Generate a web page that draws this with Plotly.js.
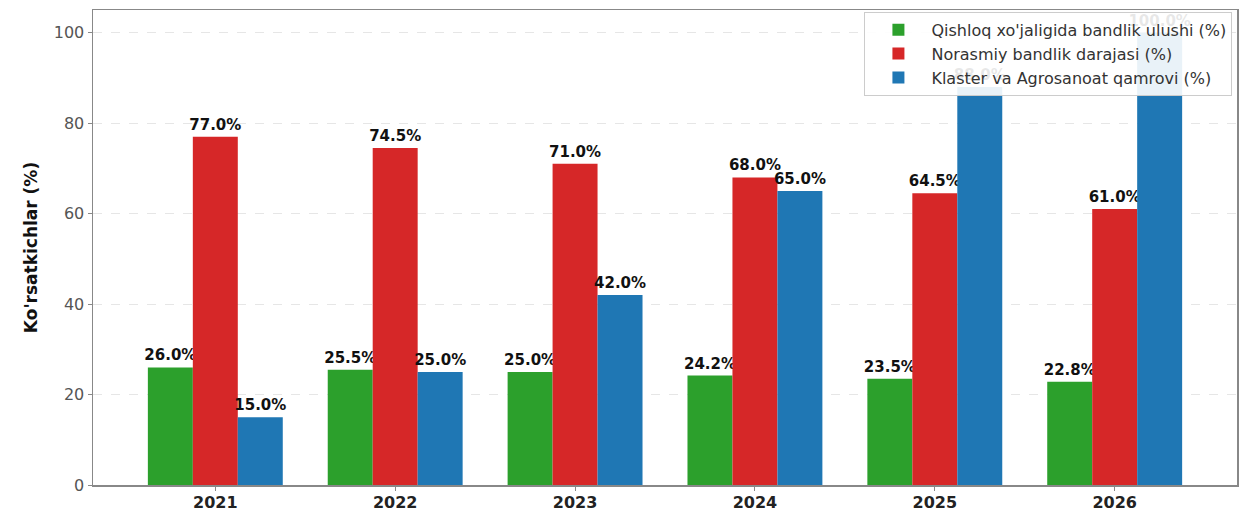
<!DOCTYPE html>
<html>
<head>
<meta charset="utf-8">
<script src="https://cdn.plot.ly/plotly-3.0.1.min.js"></script>
<style>
  html, body { margin: 0; padding: 0; background: #fff; }
  #chart { width: 1244px; height: 512px; }
</style>
</head>
<body>
<div id="chart"></div>
<script>
const years = ["2021", "2022", "2023", "2024", "2025", "2026"];
const qishloqShare = [26.0, 25.5, 25.0, 24.2, 23.5, 22.8];
const norasmiyRate = [77.0, 74.5, 71.0, 68.0, 64.5, 61.0];
const klasterCoverage = [15.0, 25.0, 42.0, 65.0, 88.0, 100.0];

const seriesNames = [
  "Qishloq xo'jaligida bandlik ulushi (%)",
  "Norasmiy bandlik darajasi (%)",
  "Klaster va Agrosanoat qamrovi (%)"
];
const seriesColors = ["#2ca02c", "#d62728", "#1f77b4"];
const seriesValues = [qishloqShare, norasmiyRate, klasterCoverage];

const traces = seriesValues.map((vals, i) => ({
  type: "bar",
  name: seriesNames[i],
  x: years,
  y: vals,
  marker: { color: seriesColors[i], line: { width: 0 } },
  text: vals.map(v => v.toFixed(1) + "%"),
  textposition: "outside",
  constraintext: "none",
  textfont: { family: "DejaVu Sans", size: 15, color: "#111", weight: "bold" },
  cliponaxis: false,
  hoverinfo: "x+y+name"
}));

const layout = {
  width: 1244,
  height: 512,
  margin: { l: 93, r: 7, t: 10, b: 27 },
  paper_bgcolor: "#ffffff",
  plot_bgcolor: "#ffffff",
  barmode: "group",
  bargap: 0.25,
  bargroupgap: 0,
  showlegend: true,
  legend: {
    x: 0.996, xanchor: "right",
    y: 0.996, yanchor: "top",
    bgcolor: "rgba(255,255,255,0.9)",
    bordercolor: "#cccccc",
    borderwidth: 1,
    itemwidth: 56,
    font: { family: "DejaVu Sans", size: 16, color: "#333" },
    tracegroupgap: 0
  },
  xaxis: {
    type: "category",
    range: [-0.68, 5.68],
    showline: true, linecolor: "#888", linewidth: 1.5, mirror: true,
    ticks: "outside", ticklen: 4, tickcolor: "#888",
    ticklabelstandoff: -2,
    showgrid: false,
    tickfont: { family: "DejaVu Sans", size: 16, color: "#222", weight: "bold" }
  },
  yaxis: {
    range: [0, 105],
    tickvals: [0, 20, 40, 60, 80, 100],
    showline: true, linecolor: "#888", linewidth: 1.5, mirror: true,
    ticks: "outside", ticklen: 4, tickcolor: "#888",
    showgrid: true, gridcolor: "#e6e6e6", griddash: "dash", gridwidth: 1,
    zeroline: false,
    tickfont: { family: "DejaVu Sans", size: 16, color: "#555" },
    title: { text: "Ko'rsatkichlar (%)", font: { family: "DejaVu Sans", size: 17, color: "#111", weight: "bold" }, standoff: 12 }
  }
};

Plotly.newPlot("chart", traces, layout, { displayModeBar: false, staticPlot: true });
</script>
</body>
</html>
